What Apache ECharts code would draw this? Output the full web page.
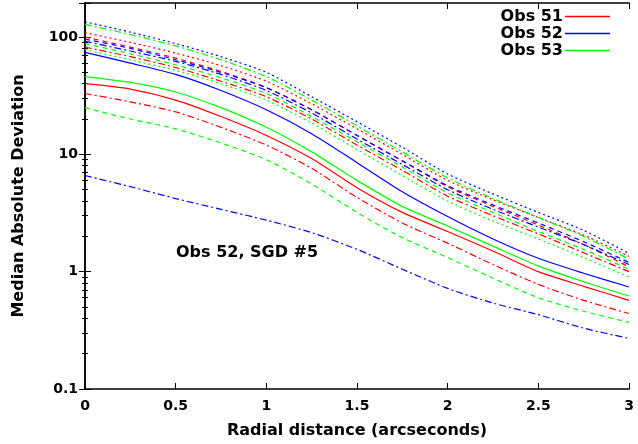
<!DOCTYPE html>
<html>
<head>
<meta charset="utf-8">
<script src="https://cdn.jsdelivr.net/npm/echarts@6/dist/echarts.min.js"></script>
<style>
html,body{margin:0;padding:0;background:#fff;}
#c{width:638px;height:444px;}
</style>
</head>
<body>
<div id="c"></div>
<script>
// Radial distance (arcseconds)
var xs = [0, 0.25, 0.5, 0.75, 1, 1.25, 1.5, 1.75, 2, 2.25, 2.5, 2.75, 3];

// Obs 51 (red)
var obs51_solid   = [40, 36, 29, 21, 14.5, 9.2, 5.2, 3.2, 2.2, 1.5, 1.0, 0.75, 0.57];
var obs51_dotted  = [109, 90, 73, 57, 42, 27, 16.5, 10, 6.0, 4.1, 2.9, 2.05, 1.35];
var obs51_dashed  = [100, 82, 66, 51, 37, 24, 14.5, 8.8, 5.3, 3.6, 2.5, 1.7, 1.1];
var obs51_dashdotU= [82, 68, 55, 42, 31, 20, 12, 7.3, 4.4, 3.0, 2.1, 1.45, 1.0];
var obs51_dashdot = [33, 28, 23, 17, 12, 7.6, 4.3, 2.6, 1.75, 1.15, 0.78, 0.57, 0.44];

// Obs 52 (blue)
var obs52_solid   = [74, 60, 48, 35, 24, 15, 8.5, 4.8, 2.95, 1.9, 1.3, 0.97, 0.74];
var obs52_dotted  = [135, 110, 88, 68, 50, 31, 19, 11.5, 6.8, 4.6, 3.2, 2.25, 1.43];
var obs52_dashed  = [96, 80, 64, 50, 37, 24, 14.5, 8.8, 5.4, 3.7, 2.6, 1.8, 1.2];
var obs52_dashdotU= [92, 76, 62, 48, 35, 22.5, 13.5, 8.2, 5.0, 3.4, 2.4, 1.7, 1.15];
var obs52_sgd5    = [6.6, 5.3, 4.2, 3.4, 2.75, 2.15, 1.55, 1.05, 0.72, 0.54, 0.43, 0.33, 0.27];

// Obs 53 (green)
var obs53_solid   = [46, 41, 34, 25, 17, 10.5, 6.0, 3.6, 2.45, 1.65, 1.12, 0.82, 0.62];
var obs53_dashdotU= [128, 105, 84, 64, 46, 29, 17.5, 10.5, 6.3, 4.2, 2.9, 2.0, 1.28];
var obs53_dashedU = [88, 72, 58, 45, 33, 21, 12.8, 7.8, 4.7, 3.2, 2.2, 1.55, 1.05];
var obs53_dotted  = [78, 64, 52, 40, 29, 18.5, 11, 6.6, 4.0, 2.7, 1.9, 1.32, 0.9];
var obs53_dashed  = [25, 20, 16.5, 12.5, 9, 5.6, 3.2, 1.95, 1.32, 0.88, 0.6, 0.46, 0.37];

var names = ['Obs 51', 'Obs 52', 'Obs 53'];
var colors = ['#ff0000', '#0000ff', '#00ff00'];

var DASH = [5, 4], DOT = [2, 3], DASHDOT = [7, 3, 2, 3];

var defs = [
  [0, obs51_solid, 'solid'], [1, obs52_solid, 'solid'], [2, obs53_solid, 'solid'],
  [0, obs51_dotted, DOT], [0, obs51_dashed, DASH], [0, obs51_dashdotU, DASHDOT], [0, obs51_dashdot, DASHDOT],
  [1, obs52_dotted, DOT], [1, obs52_dashed, DASH], [1, obs52_dashdotU, DASHDOT], [1, obs52_sgd5, DASHDOT],
  [2, obs53_dashdotU, DASHDOT], [2, obs53_dashedU, DASH], [2, obs53_dotted, DOT], [2, obs53_dashed, DASH]
];

var series = defs.map(function (d) {
  return {
    type: 'line',
    name: names[d[0]],
    data: xs.map(function (x, i) { return [x, d[1][i]]; }),
    symbol: 'none',
    smooth: 0.25,
    color: colors[d[0]],
    lineStyle: { color: colors[d[0]], width: 1.2, type: d[2] },
    silent: true,
    animation: false
  };
});

var FONT = 'DejaVu Sans';
var tickLabel = { color: '#000', fontFamily: FONT, fontWeight: 'bold', fontSize: 14 };
var axisLine = { show: true, lineStyle: { color: '#000', width: 1.5 } };

var chart = echarts.init(document.getElementById('c'), null, { renderer: 'canvas' });
chart.setOption({
  animation: false,
  backgroundColor: '#fff',
  grid: { left: 85, right: 9, top: 3, bottom: 49, containLabel: false },
  legend: {
    data: names,
    orient: 'vertical',
    right: 23,
    top: 3,
    align: 'right',
    icon: 'rect',
    itemWidth: 45,
    itemHeight: 1.5,
    itemGap: 0,
    textStyle: { color: '#000', fontFamily: FONT, fontWeight: 'bold', fontSize: 16, lineHeight: 17, padding: [0, -3, 0, 0] },
    selectedMode: false
  },
  xAxis: [{
    type: 'value', min: 0, max: 3, interval: 0.5,
    axisLine: axisLine,
    axisTick: { show: true, inside: true, length: 6, lineStyle: { color: '#000', width: 1 } },
    axisLabel: Object.assign({ margin: 10 }, tickLabel),
    splitLine: { show: false },
    name: 'Radial distance (arcseconds)',
    nameLocation: 'middle',
    nameGap: 34,
    nameTextStyle: { color: '#000', fontFamily: FONT, fontWeight: 'bold', fontSize: 16 }
  }, {
    type: 'value', min: 0, max: 3, interval: 0.5, position: 'top',
    axisLine: axisLine,
    axisTick: { show: true, inside: true, length: 6, lineStyle: { color: '#000', width: 1 } },
    axisLabel: { show: false },
    splitLine: { show: false }
  }],
  yAxis: [{
    type: 'log', logBase: 10, min: 0.1, max: 195, interval: 1,
    axisLine: axisLine,
    axisTick: { show: true, inside: true, length: 6, lineStyle: { color: '#000', width: 1 } },
    minorTick: { show: true, splitNumber: 9, length: 3, lineStyle: { color: '#000', width: 1 } },
    axisLabel: Object.assign({ margin: 7, showMaxLabel: false, formatter: function (v) { return String(+v.toPrecision(3)); } }, tickLabel),
    splitLine: { show: false },
    minorSplitLine: { show: false },
    name: 'Median Absolute Deviation',
    nameLocation: 'middle',
    nameGap: 58,
    nameTextStyle: { color: '#000', fontFamily: FONT, fontWeight: 'bold', fontSize: 16 }
  }, {
    type: 'log', logBase: 10, min: 0.1, max: 195, interval: 1, position: 'right',
    axisLine: axisLine,
    axisTick: { show: true, inside: true, length: 6, lineStyle: { color: '#000', width: 1 } },
    minorTick: { show: true, splitNumber: 9, length: 3, lineStyle: { color: '#000', width: 1 } },
    axisLabel: { show: false },
    splitLine: { show: false },
    minorSplitLine: { show: false }
  }],
  graphic: [{
    type: 'text', left: 176, top: 245,
    style: { text: 'Obs 52, SGD #5', fill: '#000', font: 'bold 16px "DejaVu Sans"' }
  }],
  series: series
});
</script>
</body>
</html>
